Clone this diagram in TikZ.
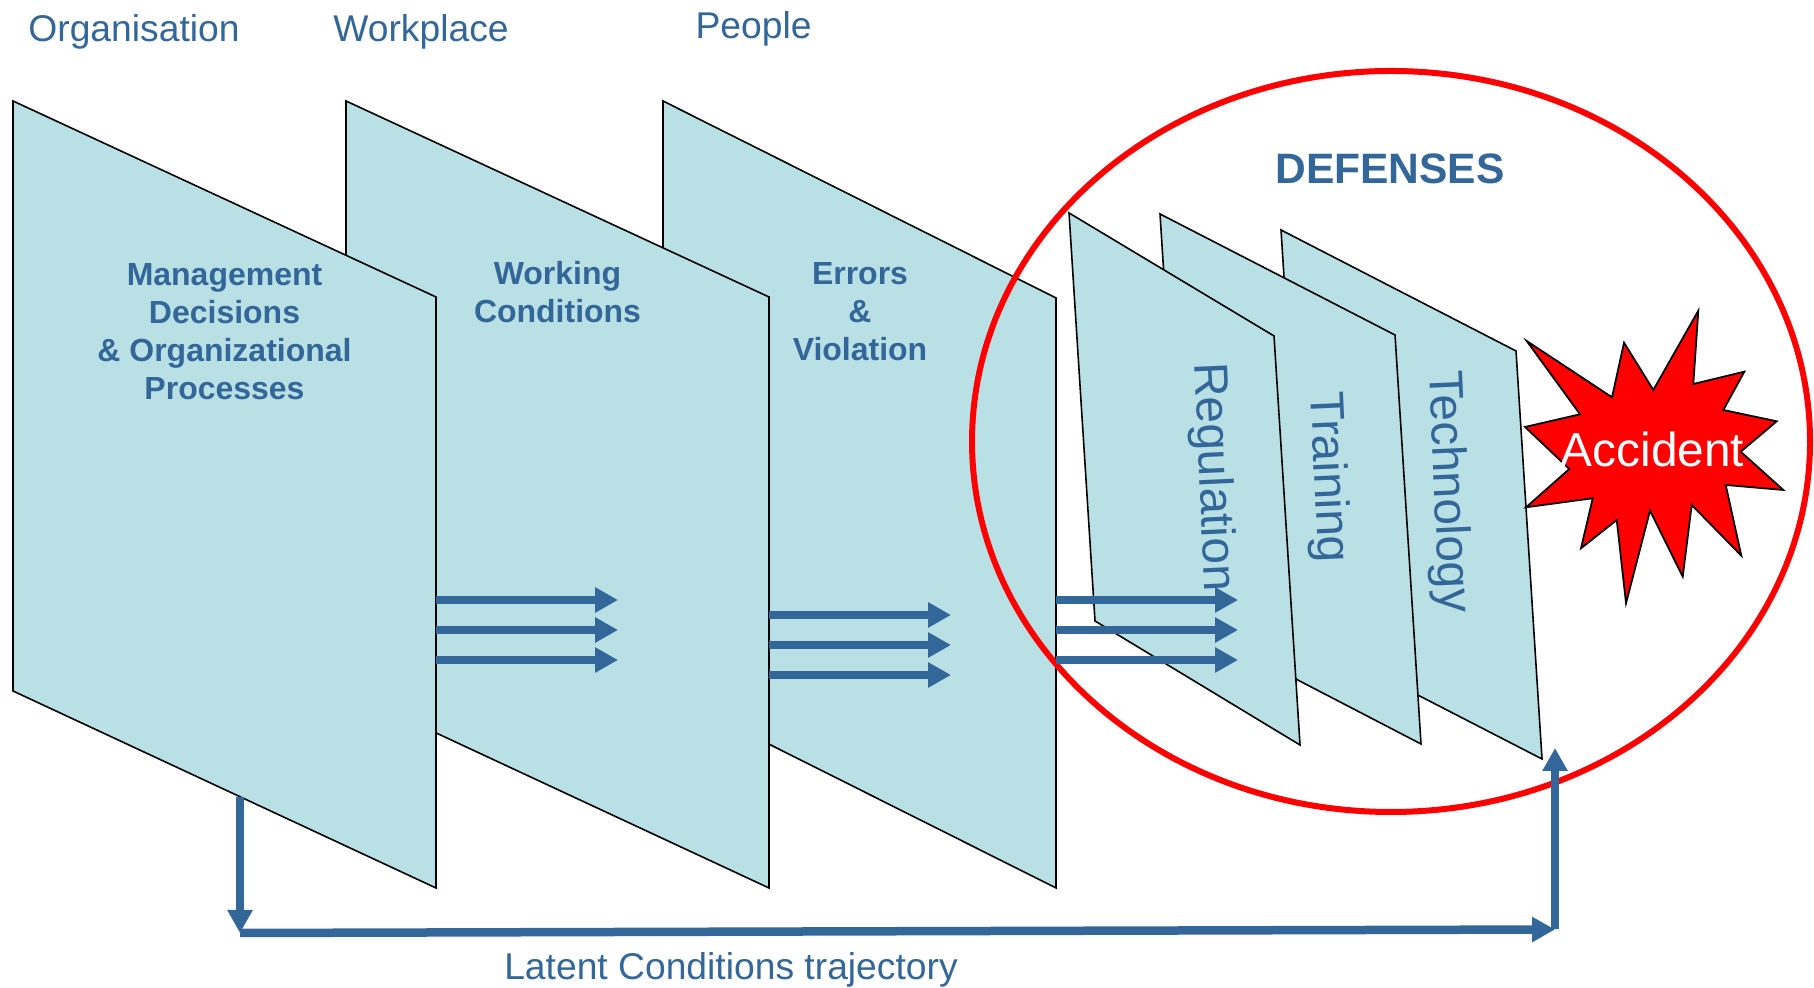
\documentclass[tikz,border=0pt]{standalone}
\usepackage{fontspec}
\setmainfont{Liberation Sans}
\definecolor{panelblue}{RGB}{185, 224, 228}
\definecolor{textblue}{RGB}{51, 102, 153}
\usetikzlibrary{arrows.meta}
\tikzset{
  panel/.style={draw=black, fill=panelblue, line width=0.45pt},
  layerlabel/.style={text=textblue, font=\fontsize{10.6}{12}\selectfont},
  paneltitle/.style={text=textblue, align=center, font=\fontsize{9.1}{10.8}\selectfont\bfseries},
  defenselabel/.style={text=textblue, rotate=-87.4, font=\fontsize{13.6}{15}\selectfont},
  flowarrow/.style={draw=textblue, line width=0.085cm, -{Triangle[length=2.3mm, width=2.4mm]}}
}
\begin{document}
\begin{tikzpicture}
  \useasboundingbox (0, 0) rectangle (18.14, 9.88);

  % Layer names
  \node[layerlabel] (organisation) at (1.34, 9.56) {Organisation};
  \node[layerlabel] (workplace) at (4.21, 9.56) {Workplace};
  \node[layerlabel] (people) at (7.535, 9.595) {People};

  % Front panels
  \draw[panel] (6.63, 8.87) -- (10.56, 6.90) -- (10.56, 1.00) -- (6.63, 2.97) -- cycle;
  \draw[panel] (3.46, 8.87) -- (7.69, 6.91) -- (7.69, 1.00) -- (3.46, 2.97) -- cycle;
  \draw[panel] (0.13, 8.87) -- (4.36, 6.91) -- (4.36, 1.00) -- (0.13, 2.97) -- cycle;

  \node[paneltitle] (management) at (2.245, 6.565) {Management\\Decisions\\\& Organizational\\Processes};
  \node[paneltitle] (conditions) at (5.575, 6.96) {Working\\Conditions};
  \node[paneltitle] (errors) at (8.60, 6.76) {Errors\\\&\\Violation};

  % Defenses
  \draw[red, line width=0.06cm] (13.91, 5.465) ellipse (4.19 and 3.705);
  \node[text=textblue, font=\fontsize{12.1}{14}\selectfont\bfseries] (defenses) at (13.90, 8.19) {DEFENSES};

  \draw[panel] (12.81, 7.58) -- (15.16, 6.37) -- (15.42, 2.29) -- (13.07, 3.50) -- cycle;
  \draw[panel] (11.60, 7.74) -- (13.95, 6.53) -- (14.21, 2.44) -- (11.86, 3.66) -- cycle;
  \draw[panel] (10.69, 7.75) -- (12.74, 6.52) -- (13.00, 2.43) -- (10.95, 3.67) -- cycle;

  \node[defenselabel] (regulation) at (12.12, 5.11) {Regulation};
  \node[defenselabel] (training) at (13.27, 5.105) {Training};
  \node[defenselabel] (technology) at (14.47, 4.96) {Technology};

  % Accident
  \draw[draw=black, fill=red, line width=0.5pt] (15.267, 6.47) -- (16.12, 5.907) -- (16.24, 6.453) -- (16.533, 5.98)
    -- (16.983, 6.773) -- (16.933, 6.04) -- (17.443, 6.163) -- (17.233, 5.78) -- (17.767, 5.667) -- (17.407, 5.363)
    -- (17.833, 4.98) -- (17.257, 5.03) -- (17.413, 4.323) -- (16.917, 4.83) -- (16.827, 4.113) -- (16.5, 4.773)
    -- (16.26, 3.847) -- (16.167, 4.68) -- (15.81, 4.397) -- (15.927, 4.897) -- (15.26, 4.807) -- (15.693, 5.19)
    -- (15.25, 5.61) -- (15.80, 5.737) -- cycle;
  \node[text=white, font=\fontsize{13.6}{15}\selectfont] (accident) at (16.525, 5.39) {Accident};

  % Arrows through the panels
  \coordinate (orgtop) at (4.36, 3.88);
  \coordinate (orgmid) at (4.36, 3.58);
  \coordinate (orglow) at (4.36, 3.28);
  \coordinate (worktop) at (6.18, 3.88);
  \coordinate (workmid) at (6.18, 3.58);
  \coordinate (worklow) at (6.18, 3.28);
  \coordinate (condtop) at (7.69, 3.73);
  \coordinate (condmid) at (7.69, 3.43);
  \coordinate (condlow) at (7.69, 3.13);
  \coordinate (errtop) at (9.51, 3.73);
  \coordinate (errmid) at (9.51, 3.43);
  \coordinate (errlow) at (9.51, 3.13);
  \coordinate (violtop) at (10.56, 3.88);
  \coordinate (violmid) at (10.56, 3.58);
  \coordinate (viollow) at (10.56, 3.28);
  \coordinate (regtop) at (12.38, 3.88);
  \coordinate (regmid) at (12.38, 3.58);
  \coordinate (reglow) at (12.38, 3.28);
  \draw[flowarrow] (orgtop) -- (worktop);
  \draw[flowarrow] (orgmid) -- (workmid);
  \draw[flowarrow] (orglow) -- (worklow);
  \draw[flowarrow] (condtop) -- (errtop);
  \draw[flowarrow] (condmid) -- (errmid);
  \draw[flowarrow] (condlow) -- (errlow);
  \draw[flowarrow] (violtop) -- (regtop);
  \draw[flowarrow] (violmid) -- (regmid);
  \draw[flowarrow] (viollow) -- (reglow);

  % Latent conditions
  \coordinate (latentdrop) at (2.40, 1.91);
  \coordinate (latentstart) at (2.40, 0.55);
  \coordinate (latentend) at (15.55, 0.585);
  \coordinate (latenthit) at (15.55, 2.40);
  \draw[flowarrow] (latentdrop) -- (latentstart);
  \draw[flowarrow] (latentstart) -- (latentend);
  \draw[flowarrow] (latentend) -- (latenthit);
  \node[layerlabel] (latent) at (7.31, 0.185) {Latent Conditions trajectory};
\end{tikzpicture}
\end{document}
